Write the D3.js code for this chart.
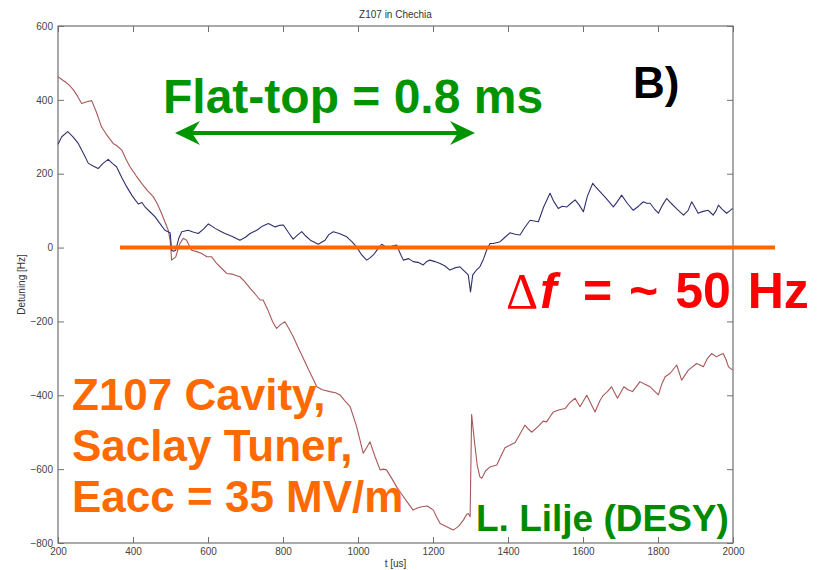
<!DOCTYPE html>
<html>
<head>
<meta charset="utf-8">
<script src="https://cdn.jsdelivr.net/npm/d3@7"></script>
<style>
  html, body { margin: 0; padding: 0; background: #fff; }
  svg { display: block; }
  .tick text { font-family: "Liberation Sans", Arial, sans-serif; font-size: 10px; fill: #444; }
</style>
</head>
<body>
<svg id="chart" width="821" height="570"></svg>
<script>
// Detuning traces of cavity Z107 (time in µs, detuning in Hz)
const blueTime = [200,210,226,240,254,268,281,295,307,320,334,345,356,370,383,398,414,424,432,445,459,472,485,499,503,508,514,522,530,547,560,574,588,601,610,619,632,645,665,685,700,712,730,745,761,779,790,801,815,827,840,850,860,873,894,912,922,934,950,970,985,996,1010,1023,1032,1041,1052,1063,1072,1081,1092,1103,1112,1121,1135,1147,1160,1174,1183,1192,1205,1219,1232,1245,1258,1272,1285,1294,1300,1306,1315,1325,1335,1343,1352,1361,1379,1392,1405,1419,1432,1445,1459,1470,1481,1495,1512,1522,1534,1545,1557,1568,1579,1590,1601,1612,1626,1633,1641,1660,1681,1692,1703,1718,1734,1748,1761,1770,1779,1790,1801,1812,1823,1835,1850,1868,1880,1890,1898,1907,1920,1934,1940,1947,1955,1961,1970,1983,1992,1999];
const blueDetuning = [280,300,314,300,282,255,228,220,214,228,239,228,219,190,165,140,118,122,110,97,83,65,47,40,-7,-10,-7,25,43,47,42,38,50,64,58,52,45,38,30,20,28,38,47,58,65,56,60,61,40,23,35,43,32,20,9,20,35,43,38,29,15,2,-20,-34,-28,-20,-5,9,3,-2,4,7,-15,-34,-30,-38,-40,-47,-38,-34,-38,-43,-50,-61,-55,-52,-65,-74,-120,-74,-62,-52,-30,-7,11,11,16,28,40,36,34,55,74,72,70,110,147,125,106,112,110,120,129,115,97,140,174,165,156,135,110,125,142,120,101,112,124,120,120,105,93,115,133,120,105,88,100,124,110,93,98,101,95,88,100,115,105,93,100,106];

const redTime = [200,210,219,230,241,252,263,277,290,303,316,330,347,358,370,381,392,408,423,438,454,465,476,485,494,499,503,508,514,520,525,534,543,550,556,570,583,597,610,623,636,650,665,685,698,712,725,739,747,760,772,783,794,805,816,827,840,854,868,880,890,905,925,940,952,965,979,995,1005,1014,1024,1032,1045,1059,1068,1076,1090,1103,1118,1132,1147,1158,1170,1185,1201,1210,1219,1235,1254,1268,1281,1290,1294,1299,1303,1310,1318,1325,1330,1340,1352,1370,1381,1392,1405,1419,1432,1445,1455,1463,1480,1494,1503,1512,1521,1535,1552,1565,1579,1592,1610,1620,1632,1645,1654,1665,1676,1692,1709,1720,1732,1752,1765,1779,1790,1801,1810,1819,1832,1850,1863,1881,1903,1912,1921,1932,1943,1956,1966,1974,1982,1988,1999];
const redDetuning = [463,455,449,440,427,410,390,395,398,365,327,305,282,275,264,240,219,195,174,155,138,118,93,70,47,20,-34,-30,-25,-5,11,25,20,5,-7,-11,-16,-25,-25,-43,-56,-70,-72,-79,-92,-110,-125,-142,-142,-170,-200,-219,-208,-201,-220,-241,-270,-300,-330,-355,-377,-385,-390,-393,-399,-415,-431,-480,-520,-557,-540,-526,-565,-602,-600,-602,-625,-648,-670,-690,-711,-705,-702,-700,-711,-730,-747,-755,-765,-755,-738,-722,-720,-729,-452,-520,-590,-621,-625,-605,-594,-589,-565,-542,-535,-528,-505,-481,-492,-500,-485,-470,-472,-458,-445,-440,-436,-420,-408,-431,-400,-420,-445,-415,-400,-390,-377,-408,-377,-385,-390,-363,-370,-377,-388,-399,-370,-350,-341,-318,-359,-332,-314,-318,-323,-300,-287,-296,-290,-287,-305,-323,-332];

const xTicks = [200,400,600,800,1000,1200,1400,1600,1800,2000];
const yTicks = [-800,-600,-400,-200,0,200,400,600];

// Flat-top interval (µs) and the reference detuning level (Hz)
const flatTop = [512, 1312];
const referenceLevel = 0;

const svg = d3.select("#chart");
const plotLeft = 58, plotRight = 733, plotTop = 26, plotBottom = 543;

const x = d3.scaleLinear().domain([200, 2000]).range([plotLeft, plotRight]);
const y = d3.scaleLinear().domain([-800, 600]).range([plotBottom, plotTop]);

const axisColor = "#707070";
const plain = d3.format("d");

// Axes with inward ticks on all four sides (box style)
const gx = svg.append("g").attr("transform", `translate(0,${plotBottom})`)
  .call(d3.axisBottom(x).tickValues(xTicks).tickFormat(plain).tickSizeInner(-6).tickSizeOuter(0).tickPadding(5));
const gxTop = svg.append("g").attr("transform", `translate(0,${plotTop})`)
  .call(d3.axisTop(x).tickValues(xTicks).tickSizeInner(-6).tickSizeOuter(0).tickFormat(""));
const gy = svg.append("g").attr("transform", `translate(${plotLeft},0)`)
  .call(d3.axisLeft(y).tickValues(yTicks).tickFormat(plain).tickSizeInner(-6).tickSizeOuter(0).tickPadding(5));
const gyRight = svg.append("g").attr("transform", `translate(${plotRight},0)`)
  .call(d3.axisRight(y).tickValues(yTicks).tickSizeInner(-6).tickSizeOuter(0).tickFormat(""));

[gx, gxTop, gy, gyRight].forEach(g => {
  g.select(".domain").remove();
  g.selectAll(".tick line").attr("stroke", axisColor).attr("stroke-width", 1);
});

svg.append("rect")
  .attr("x", plotLeft).attr("y", plotTop)
  .attr("width", plotRight - plotLeft).attr("height", plotBottom - plotTop)
  .attr("fill", "none").attr("stroke", axisColor).attr("stroke-width", 1.2);

// Title and axis labels
const smallFont = "'Liberation Sans', Arial, sans-serif";
svg.append("text").attr("x", (plotLeft + plotRight) / 2).attr("y", 18)
  .attr("text-anchor", "middle").attr("font-family", smallFont).attr("font-size", 10).attr("fill", "#333")
  .text("Z107 in Chechia");
svg.append("text").attr("x", (plotLeft + plotRight) / 2).attr("y", 567)
  .attr("text-anchor", "middle").attr("font-family", smallFont).attr("font-size", 10).attr("fill", "#333")
  .text("t [us]");
svg.append("text")
  .attr("transform", `translate(25,${(plotTop + plotBottom) / 2}) rotate(-90)`)
  .attr("text-anchor", "middle").attr("font-family", smallFont).attr("font-size", 10).attr("fill", "#333")
  .text("Detuning [Hz]");

// Traces
const line = d3.line().x(d => x(d[0])).y(d => y(d[1]));
const blue = d3.zip(blueTime, blueDetuning);
const red = d3.zip(redTime, redDetuning);

svg.append("path").datum(red).attr("d", line)
  .attr("fill", "none").attr("stroke", "#a85858").attr("stroke-width", 1.1).attr("stroke-linejoin", "round");
svg.append("path").datum(blue).attr("d", line)
  .attr("fill", "none").attr("stroke", "#30306e").attr("stroke-width", 1.1).attr("stroke-linejoin", "round");

// Reference level line
svg.append("line")
  .attr("x1", 120).attr("x2", 775)
  .attr("y1", y(referenceLevel)).attr("y2", y(referenceLevel))
  .attr("stroke", "#ff6600").attr("stroke-width", 4);

// Flat-top double arrow
const green = "#009400";
const ay = 133;
const x0 = x(flatTop[0]), x1 = x(flatTop[1]);
svg.append("line").attr("x1", x0 + 14).attr("x2", x1 - 14).attr("y1", ay).attr("y2", ay)
  .attr("stroke", green).attr("stroke-width", 4);
const head = (tip, dir) => {
  const p = [[tip, ay], [tip + dir * 25, ay - 12], [tip + dir * 17, ay], [tip + dir * 25, ay + 12]];
  svg.append("path").attr("d", "M" + p.map(q => q.join(",")).join("L") + "Z").attr("fill", green);
};
head(x0, 1);
head(x1, -1);

const bigFont = "'Liberation Sans', Arial, sans-serif";
svg.append("text").attr("x", 163).attr("y", 113)
  .attr("font-family", bigFont).attr("font-weight", "bold").attr("font-size", 48).attr("fill", green)
  .text("Flat-top = 0.8 ms");

svg.append("text").attr("x", 633).attr("y", 98)
  .attr("font-family", bigFont).attr("font-weight", "bold").attr("font-size", 44).attr("fill", "#000")
  .text("B)");

const df = svg.append("text").attr("y", 308)
  .attr("font-size", 50).attr("fill", "#ff0000");
df.append("tspan").attr("x", 506).attr("font-family", "'Liberation Serif', 'Times New Roman', serif").text("Δ");
df.append("tspan").attr("x", 540).attr("font-family", bigFont).attr("font-weight", "bold").attr("font-style", "italic").text("f");
df.append("tspan").attr("x", 583).attr("font-family", bigFont).attr("font-weight", "bold")
  .attr("word-spacing", 3).text("= ~ 50 Hz");

const orange = "#ff6a00";
["Z107 Cavity,", "Saclay Tuner,", "Eacc = 35 MV/m"].forEach((s, i) => {
  svg.append("text").attr("x", 72).attr("y", 410 + i * 51)
    .attr("font-family", bigFont).attr("font-weight", "bold").attr("font-size", 44).attr("fill", orange)
    .text(s);
});

svg.append("text").attr("x", 476).attr("y", 531)
  .attr("font-family", bigFont).attr("font-weight", "bold").attr("font-size", 37).attr("fill", "#008a00")
  .text("L. Lilje (DESY)");
</script>
</body>
</html>
